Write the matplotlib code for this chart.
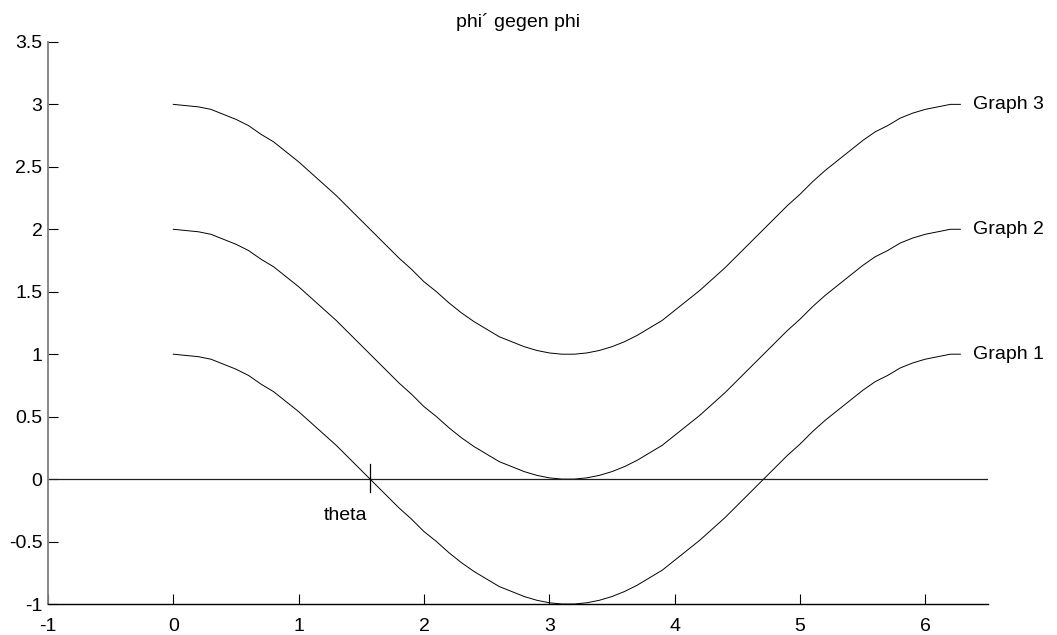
import matplotlib
matplotlib.use('Agg')
import matplotlib.pyplot as plt

# ── Data ──────────────────────────────────────────────────────────────────────
PHI = [0.0, 0.1, 0.2, 0.3, 0.4, 0.5, 0.6, 0.7, 0.8, 0.9,
       1.0, 1.1, 1.2, 1.3, 1.4, 1.5, 1.6, 1.7, 1.8, 1.9,
       2.0, 2.1, 2.2, 2.3, 2.4, 2.5, 2.6, 2.7, 2.8, 2.9,
       3.0, 3.1, 3.2, 3.3, 3.4, 3.5, 3.6, 3.7, 3.8, 3.9,
       4.0, 4.1, 4.2, 4.3, 4.4, 4.5, 4.6, 4.7, 4.8, 4.9,
       5.0, 5.1, 5.2, 5.3, 5.4, 5.5, 5.6, 5.7, 5.8, 5.9,
       6.0, 6.1, 6.2, 6.28]

GRAPH_1 = [1.00, 0.99, 0.98, 0.96, 0.92, 0.88, 0.83, 0.76, 0.70, 0.62,
           0.54, 0.45, 0.36, 0.27, 0.17, 0.07, -0.03, -0.13, -0.23, -0.32,
           -0.42, -0.50, -0.59, -0.67, -0.74, -0.80, -0.86, -0.90, -0.94, -0.97,
           -0.99, -1.00, -1.00, -0.99, -0.97, -0.94, -0.90, -0.85, -0.79, -0.73,
           -0.65, -0.57, -0.49, -0.40, -0.31, -0.21, -0.11, -0.01, 0.09, 0.19,
           0.28, 0.38, 0.47, 0.55, 0.63, 0.71, 0.78, 0.83, 0.89, 0.93,
           0.96, 0.98, 1.00, 1.00]
GRAPH_2 = [2.00, 1.99, 1.98, 1.96, 1.92, 1.88, 1.83, 1.76, 1.70, 1.62,
           1.54, 1.45, 1.36, 1.27, 1.17, 1.07, 0.97, 0.87, 0.77, 0.68,
           0.58, 0.50, 0.41, 0.33, 0.26, 0.20, 0.14, 0.10, 0.06, 0.03,
           0.01, 0.00, 0.00, 0.01, 0.03, 0.06, 0.10, 0.15, 0.21, 0.27,
           0.35, 0.43, 0.51, 0.60, 0.69, 0.79, 0.89, 0.99, 1.09, 1.19,
           1.28, 1.38, 1.47, 1.55, 1.63, 1.71, 1.78, 1.83, 1.89, 1.93,
           1.96, 1.98, 2.00, 2.00]
GRAPH_3 = [3.00, 2.99, 2.98, 2.96, 2.92, 2.88, 2.83, 2.76, 2.70, 2.62,
           2.54, 2.45, 2.36, 2.27, 2.17, 2.07, 1.97, 1.87, 1.77, 1.68,
           1.58, 1.50, 1.41, 1.33, 1.26, 1.20, 1.14, 1.10, 1.06, 1.03,
           1.01, 1.00, 1.00, 1.01, 1.03, 1.06, 1.10, 1.15, 1.21, 1.27,
           1.35, 1.43, 1.51, 1.60, 1.69, 1.79, 1.89, 1.99, 2.09, 2.19,
           2.28, 2.38, 2.47, 2.55, 2.63, 2.71, 2.78, 2.83, 2.89, 2.93,
           2.96, 2.98, 3.00, 3.00]

SERIES = [('Graph 1', GRAPH_1), ('Graph 2', GRAPH_2), ('Graph 3', GRAPH_3)]

THETA = 1.5708            # marked crossing of Graph 1 with zero
X_TICKS = [-1, 0, 1, 2, 3, 4, 5, 6]
Y_TICKS = [-1, -0.5, 0, 0.5, 1, 1.5, 2, 2.5, 3, 3.5]
Y_LABELS = ['-1', '-0.5', '0', '0.5', '1', '1.5', '2', '2.5', '3', '3.5']

plt.rcParams['font.family'] = ['Liberation Sans', 'DejaVu Sans']
FS = 14

# ── Figure ────────────────────────────────────────────────────────────────────
fig = plt.figure(figsize=(10.57, 6.35), dpi=100, facecolor='white')
ax = fig.add_axes([0.0454, 0.0488, 0.8893, 0.8852])

for name, ys in SERIES:
	ax.plot(PHI, ys, color='black', linewidth=0.7)
	ax.text(PHI[-1] + 0.1, ys[-1], name, fontsize=FS, ha='left', va='center')

# zero line across the whole axes
ax.axhline(0, color='#202020', linewidth=0.9)

# theta marker
ax.plot([THETA, THETA], [-0.1, 0.12], color='black', linewidth=0.9)
ax.text(THETA - 0.2, -0.29, 'theta', fontsize=FS, ha='center', va='center')

ax.set_title('phi\u00b4 gegen phi', fontsize=FS, pad=11)

ax.set_xlim(-1, 6.5)
ax.set_ylim(-1, 3.5)
ax.set_xticks(X_TICKS)
ax.set_xticklabels([str(t) for t in X_TICKS])
ax.set_yticks(Y_TICKS)
ax.set_yticklabels(Y_LABELS)
ax.tick_params(axis='both', direction='in', length=7, width=0.8, labelsize=FS)
ax.tick_params(axis='x', pad=10)
ax.tick_params(axis='y', pad=4)

for side in ['top', 'right']:
	ax.spines[side].set_visible(False)
ax.spines['left'].set_color('#7f7f7f')
ax.spines['left'].set_linewidth(1.3)
ax.spines['bottom'].set_color('black')
ax.spines['bottom'].set_linewidth(1.0)

fig.savefig('out.png', dpi=100, facecolor='white')
